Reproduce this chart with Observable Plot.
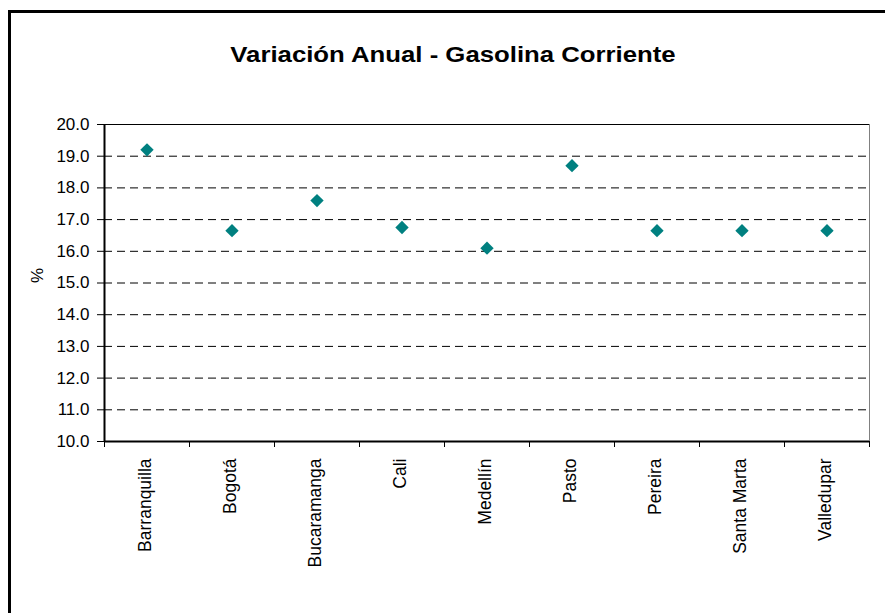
<!DOCTYPE html>
<html><head><meta charset="utf-8">
<script src="https://cdn.jsdelivr.net/npm/d3@7"></script>
<script src="https://cdn.jsdelivr.net/npm/@observablehq/plot@0.6"></script>
<style>
html,body{margin:0;padding:0;background:#fff;}
#frame{position:absolute;left:8px;top:10px;width:900px;height:700px;border-left:3px solid #000;border-top:3px solid #000;box-sizing:border-box;}
#title{position:absolute;left:0;width:906px;top:44px;text-align:center;font:bold 22px "Liberation Sans",Arial,sans-serif;line-height:22px;transform:scaleX(1.17);color:#000;}
#chart{position:absolute;left:0;top:0;}
</style></head><body>
<div id="frame"></div>
<div id="title"></div>
<div id="chart"></div>
<script>
const titleText = "Variación Anual - Gasolina Corriente";
const yLabel = "%";
const cities = ["Barranquilla","Bogotá","Bucaramanga","Cali","Medellín","Pasto","Pereira","Santa Marta","Valledupar"];
const values = [19.2, 16.65, 17.6, 16.75, 16.1, 18.7, 16.65, 16.65, 16.65];
const yTicks = [10, 11, 12, 13, 14, 15, 16, 17, 18, 19, 20];

document.getElementById("title").textContent = titleText;

const rows = cities.map((c, i) => ({city: c, idx: i, value: values[i]}));
const n = cities.length;

const chart = Plot.plot({
  width: 885, height: 613,
  marginLeft: 104, marginRight: 16, marginTop: 124, marginBottom: 172,
  style: {background: "transparent", fontFamily: "Liberation Sans, Arial, sans-serif", fontSize: "16px", color: "#000"},
  x: {domain: [0, n]},
  y: {domain: [10, 20]},
  marks: [
    Plot.gridY(yTicks.slice(1, -1), {stroke: "#000", strokeOpacity: 1, strokeDasharray: "8,5"}),
    Plot.ruleY([yTicks[yTicks.length - 1]], {stroke: "#000"}),
    Plot.ruleX([n], {stroke: "#808080"}),
    Plot.axisY(yTicks, {tickSize: 7, tickFormat: () => "", label: null}),
    Plot.text(yTicks, {y: d => d, text: d => d.toFixed(1), frameAnchor: "left", textAnchor: "end", dx: -15, fontSize: 17, fill: "#000"}),
    Plot.text([yLabel], {frameAnchor: "left", rotate: -90, dx: -67, fontSize: 17, fill: "#000"}),
    Plot.axisX(d3.range(n + 1), {tickSize: 6, tickFormat: () => "", label: null}),
    Plot.text(rows, {x: d => d.idx + 0.5, text: "city", frameAnchor: "bottom", rotate: -90, textAnchor: "end", dx: 4, dy: 17, fontSize: 17.5, fill: "#000"}),
    Plot.ruleX([0], {stroke: "#000", strokeWidth: 2}),
    Plot.ruleY([yTicks[0]], {stroke: "#000", strokeWidth: 2}),
    Plot.dot(rows, {x: d => d.idx + 0.5, y: "value", symbol: "diamond2", r: 6, fill: "#008080", stroke: "none"})
  ]
});
document.getElementById("chart").appendChild(chart);
</script>
</body></html>
